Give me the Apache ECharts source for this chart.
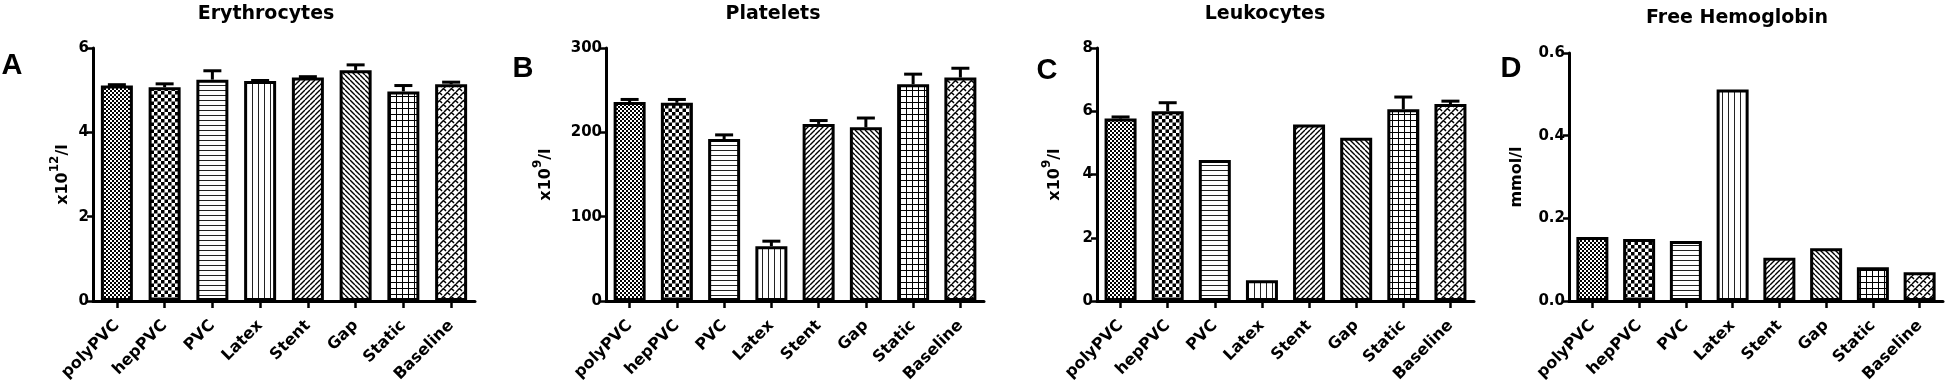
<!DOCTYPE html>
<html>
<head>
<meta charset="utf-8">
<script src="https://cdn.jsdelivr.net/npm/echarts@6/dist/echarts.min.js"></script>
<style>
html,body{margin:0;padding:0;background:#fff;}
#chart{width:1945px;height:385px;}
</style>
</head>
<body>
<div id="chart"></div>
<script>
// ---------- data ----------
const categories = ['polyPVC', 'hepPVC', 'PVC', 'Latex', 'Stent', 'Gap', 'Static', 'Baseline'];

const erythrocytes    = [5.11, 5.07, 5.25, 5.22, 5.30, 5.47, 4.97, 5.14];
const erythrocytesErr = [0.02, 0.08, 0.21, 0.01, 0.02, 0.13, 0.14, 0.05];

const platelets    = [236, 235, 192, 65, 210, 206, 257, 265];
const plateletsErr = [3, 4, 5, 6, 4, 11, 12, 11];

const leukocytes    = [5.77, 6.00, 4.46, 0.66, 5.58, 5.16, 6.06, 6.23];
const leukocytesErr = [0.05, 0.27, 0, 0, 0, 0, 0.39, 0.09];

const freeHemoglobin    = [0.155, 0.150, 0.145, 0.512, 0.105, 0.128, 0.082, 0.070];
const freeHemoglobinErr = [0, 0, 0, 0, 0, 0, 0, 0];

const panelTitles = ['Erythrocytes', 'Platelets', 'Leukocytes', 'Free Hemoglobin'];
const panelLetters = ['A', 'B', 'C', 'D'];
const yNames = ['{n|x10}{sup|12}{n|/l}', '{n|x10}{sup|9}{n|/l}', '{n|x10}{sup|9}{n|/l}', '{n|mmol/l}'];
const yMax = [6, 300, 8, 0.6];
const yInterval = [2, 100, 2, 0.2];
const yDecimals = [0, 0, 0, 1];

// ---------- patterns ----------
function makeCanvas(w, h) {
  const c = document.createElement('canvas');
  c.width = w; c.height = h;
  const ctx = c.getContext('2d');
  ctx.fillStyle = '#fff';
  ctx.fillRect(0, 0, w, h);
  return [c, ctx];
}
function patFineChecker() {
  const [c, ctx] = makeCanvas(4, 4);
  ctx.fillStyle = '#000';
  ctx.fillRect(0, 0, 2, 2); ctx.fillRect(2, 2, 2, 2);
  return c;
}
function patChecker() {
  const [c, ctx] = makeCanvas(7, 7);
  ctx.fillStyle = '#000';
  ctx.fillRect(0, 0, 3.5, 3.5); ctx.fillRect(3.5, 3.5, 3.5, 3.5);
  return c;
}
function patHLines() {
  const [c, ctx] = makeCanvas(4, 5);
  ctx.fillStyle = '#222';
  ctx.fillRect(0, 0, 4, 1);
  return c;
}
function patVLines() {
  const [c, ctx] = makeCanvas(6, 4);
  ctx.fillStyle = '#222';
  ctx.fillRect(0, 0, 1, 4);
  return c;
}
function patDiag(up) {
  const s = 5;
  const [c, ctx] = makeCanvas(s, s);
  ctx.strokeStyle = '#000';
  ctx.lineWidth = 1.4;
  ctx.beginPath();
  for (let k = -1; k <= 1; k++) {
    if (up) { ctx.moveTo(k * s, s); ctx.lineTo(k * s + s, 0); }
    else { ctx.moveTo(k * s, 0); ctx.lineTo(k * s + s, s); }
  }
  ctx.stroke();
  return c;
}
function patGrid() {
  const [c, ctx] = makeCanvas(6, 6);
  ctx.fillStyle = '#000';
  ctx.fillRect(0, 0, 6, 1);
  ctx.fillRect(0, 0, 1, 6);
  return c;
}
function patWeave() {
  const s = 8;
  const [c, ctx] = makeCanvas(s, s);
  ctx.strokeStyle = '#000';
  ctx.lineWidth = 1.5;
  ctx.beginPath();
  ctx.moveTo(0, 4); ctx.lineTo(4, 0);
  ctx.moveTo(4, 8); ctx.lineTo(8, 4);
  ctx.moveTo(4, 1); ctx.lineTo(6, 3);
  ctx.moveTo(0, 5); ctx.lineTo(2, 7);
  ctx.moveTo(8, 5); ctx.lineTo(10, 7);
  ctx.stroke();
  return c;
}
const patterns = [patFineChecker(), patChecker(), patHLines(), patVLines(), patDiag(true), patDiag(false), patGrid(), patWeave()];

// ---------- layout ----------
const grids = [
  { left: 93,   top: 48, width: 382, height: 254 },
  { left: 606,  top: 48, width: 378, height: 254 },
  { left: 1097, top: 48, width: 377, height: 254 },
  { left: 1569, top: 53, width: 374, height: 249 }
];
const nameGaps = [22, 52, 34, 44];
const titlePos = [[266, 14], [773, 14], [1265, 14], [1737, 18]];
const letterPos = [[12, 66], [523, 69], [1047, 71], [1511, 69]];

const values = [erythrocytes, platelets, leukocytes, freeHemoglobin];
const errors = [erythrocytesErr, plateletsErr, leukocytesErr, freeHemoglobinErr];

const FONT = 'DejaVu Sans';

const xAxes = [], yAxes = [], series = [], graphics = [];
for (let p = 0; p < 4; p++) {
  xAxes.push({
    type: 'category', gridIndex: p, data: categories,
    axisLine: { show: true, lineStyle: { color: '#000', width: 3 } },
    axisTick: { show: true, alignWithLabel: true, length: 7, lineStyle: { color: '#000', width: 2.5 } },
    axisLabel: { interval: 0, rotate: 45, margin: 22, color: '#000', fontFamily: FONT, fontWeight: 'bold', fontSize: 16 },
    splitLine: { show: false }
  });
  const dec = yDecimals[p];
  yAxes.push({
    type: 'value', gridIndex: p, min: 0, max: yMax[p], interval: yInterval[p],
    axisLine: { show: true, lineStyle: { color: '#000', width: 3 } },
    axisTick: { show: true, length: 6, lineStyle: { color: '#000', width: 2.5 } },
    axisLabel: { margin: 4, color: '#000', fontFamily: FONT, fontWeight: 'bold', fontSize: 15,
      formatter: v => v.toFixed(dec) },
    splitLine: { show: false },
    name: yNames[p], nameLocation: 'middle', nameRotate: 90, nameGap: nameGaps[p],
    nameTextStyle: {
      color: '#000', fontFamily: FONT, fontWeight: 'bold', fontSize: 16,
      rich: {
        n: { fontFamily: FONT, fontWeight: 'bold', fontSize: 16, color: '#000', lineHeight: 22, verticalAlign: 'bottom' },
        sup: { fontFamily: FONT, fontWeight: 'bold', fontSize: 12, color: '#000', lineHeight: 22, verticalAlign: 'top' }
      }
    }
  });
  series.push({
    type: 'bar', xAxisIndex: p, yAxisIndex: p, barWidth: 32, z: 3,
    data: values[p].map((v, i) => ({
      value: v,
      itemStyle: { color: { image: patterns[i], repeat: 'repeat' }, borderColor: '#000', borderWidth: 3 }
    }))
  });
  series.push({
    type: 'custom', xAxisIndex: p, yAxisIndex: p, z: 2,
    encode: { x: 0, y: 1 },
    data: values[p].map((v, i) => [i, v, errors[p][i]]),
    renderItem: (params, api) => {
      const i = api.value(0), v = api.value(1), e = api.value(2);
      if (!e) return null;
      const b = api.coord([i, v]);
      const t = api.coord([i, v + e]);
      return {
        type: 'group',
        children: [
          { type: 'line', shape: { x1: b[0], y1: b[1], x2: t[0], y2: t[1] }, style: { stroke: '#000', lineWidth: 3 } },
          { type: 'line', shape: { x1: t[0] - 9, y1: t[1], x2: t[0] + 9, y2: t[1] }, style: { stroke: '#000', lineWidth: 3 } }
        ]
      };
    }
  });
  graphics.push({
    type: 'text', x: titlePos[p][0], y: titlePos[p][1],
    style: { text: panelTitles[p], fill: '#000', font: 'bold 19px "DejaVu Sans"', textAlign: 'center', textVerticalAlign: 'middle' }
  });
  graphics.push({
    type: 'text', x: letterPos[p][0], y: letterPos[p][1],
    style: { text: panelLetters[p], fill: '#000', font: 'bold 29px "Liberation Sans"', textAlign: 'center', textVerticalAlign: 'middle' }
  });
}

const chart = echarts.init(document.getElementById('chart'), null, { renderer: 'canvas' });
chart.setOption({
  animation: false,
  backgroundColor: '#fff',
  grid: grids,
  xAxis: xAxes,
  yAxis: yAxes,
  series: series,
  graphic: graphics
});
</script>
</body>
</html>
